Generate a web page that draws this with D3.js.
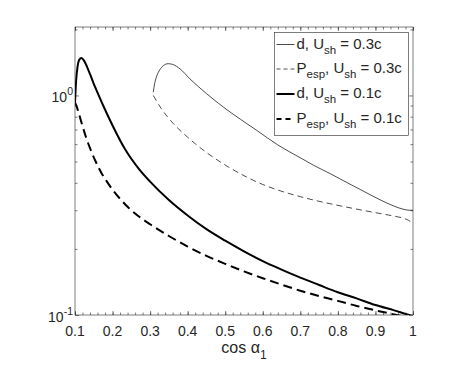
<!DOCTYPE html>
<html>
<head>
<meta charset="utf-8">
<script src="https://cdn.jsdelivr.net/npm/d3@7"></script>
<style>
  body { margin: 0; background: #fff; }
  text { font-family: "Liberation Sans", Arial, Helvetica, sans-serif; fill: #262626; }
</style>
</head>
<body>
<svg id="chart" width="474" height="366"></svg>
<script>
// cos alpha_1 values and curves
var xD01 = [0.100, 0.103, 0.107, 0.112, 0.117, 0.124, 0.132, 0.140, 0.150, 0.160, 0.175, 0.200, 0.233, 0.270, 0.300, 0.350, 0.400, 0.450, 0.500, 0.550, 0.600, 0.650, 0.700, 0.750, 0.800, 0.850, 0.900, 0.950, 0.990, 1.000];
var yD01 = [0.93, 1.17, 1.36, 1.46, 1.48, 1.44, 1.35, 1.25, 1.13, 1.03, 0.90, 0.73, 0.57, 0.463, 0.405, 0.334, 0.284, 0.246, 0.218, 0.195, 0.176, 0.161, 0.148, 0.137, 0.127, 0.119, 0.111, 0.105, 0.100, 0.099];

var xP01 = [0.100, 0.105, 0.110, 0.120, 0.130, 0.140, 0.155, 0.170, 0.185, 0.200, 0.220, 0.240, 0.260, 0.280, 0.300, 0.350, 0.400, 0.450, 0.500, 0.550, 0.600, 0.650, 0.700, 0.750, 0.800, 0.850, 0.900, 0.950, 0.980, 1.000];
var yP01 = [0.93, 0.885, 0.83, 0.725, 0.64, 0.575, 0.50, 0.445, 0.405, 0.372, 0.338, 0.311, 0.290, 0.273, 0.259, 0.229, 0.205, 0.186, 0.171, 0.158, 0.147, 0.1375, 0.129, 0.122, 0.116, 0.110, 0.105, 0.1006, 0.098, 0.096];

var xD03 = [0.3085, 0.312, 0.318, 0.326, 0.336, 0.348, 0.360, 0.380, 0.406, 0.450, 0.495, 0.540, 0.584, 0.640, 0.700, 0.735, 0.780, 0.823, 0.870, 0.912, 0.950, 0.975, 0.990, 1.000];
var yD03 = [1.035, 1.13, 1.23, 1.31, 1.37, 1.395, 1.385, 1.32, 1.19, 1.02, 0.885, 0.78, 0.693, 0.595, 0.52, 0.481, 0.44, 0.402, 0.365, 0.335, 0.313, 0.303, 0.300, 0.300];

var xP03 = [0.3085, 0.330, 0.362, 0.400, 0.450, 0.500, 0.557, 0.600, 0.646, 0.700, 0.735, 0.780, 0.823, 0.870, 0.912, 0.950, 0.974, 0.988, 1.000];
var yP03 = [1.0, 0.87, 0.744, 0.645, 0.55, 0.482, 0.425, 0.393, 0.368, 0.346, 0.334, 0.321, 0.310, 0.299, 0.290, 0.282, 0.276, 0.270, 0.261];

var xTicks = [0.1, 0.2, 0.3, 0.4, 0.5, 0.6, 0.7, 0.8, 0.9, 1];
var xTickLabels = ["0.1", "0.2", "0.3", "0.4", "0.5", "0.6", "0.7", "0.8", "0.9", "1"];
var yTicks = [0.1, 1];
var yTickExp = ["-1", "0"];
var legendNames = ["d", "P", "d", "P"];
var legendSubs = ["", "esp", "", "esp"];
var legendSpeeds = ["0.3c", "0.3c", "0.1c", "0.1c"];

var svg = d3.select("#chart"),
    marginLeft = 75, marginRight = 61, marginTop = 27, marginBottom = 51,
    width = +svg.attr("width"), height = +svg.attr("height");

var xScale = d3.scaleLinear().domain([0.1, 1]).range([marginLeft, width - marginRight]);
var yScale = d3.scaleLog().domain([0.1, 2.05]).range([height - marginBottom, marginTop]);

svg.append("defs").append("clipPath").attr("id", "clip")
  .append("rect")
  .attr("x", marginLeft).attr("y", marginTop)
  .attr("width", width - marginLeft - marginRight)
  .attr("height", height - marginTop - marginBottom);

// minor ticks
var xMinor = d3.range(0.1, 1.0001, 0.02);
var yMinor = [0.2, 0.3, 0.4, 0.5, 0.6, 0.7, 0.8, 0.9, 2];
var axisColor = "#262626";

function tickAxis(axis, vals, size) {
  var g = svg.append("g").call(axis.tickValues(vals).tickSize(size).tickFormat(""));
  g.select(".domain").remove();
  g.selectAll("line").attr("stroke", axisColor).attr("stroke-width", 0.6);
  return g;
}
var plotH = height - marginTop - marginBottom;
var plotW = width - marginLeft - marginRight;

tickAxis(d3.axisTop(xScale), xMinor, 2.5).attr("transform", "translate(0," + (height - marginBottom) + ")");
tickAxis(d3.axisBottom(xScale), xMinor, 2.5).attr("transform", "translate(0," + marginTop + ")");
tickAxis(d3.axisTop(xScale), xTicks, 4).attr("transform", "translate(0," + (height - marginBottom) + ")");
tickAxis(d3.axisBottom(xScale), xTicks, 4).attr("transform", "translate(0," + marginTop + ")");
tickAxis(d3.axisRight(yScale), yMinor, 2.5).attr("transform", "translate(" + marginLeft + ",0)");
tickAxis(d3.axisLeft(yScale), yMinor, 2.5).attr("transform", "translate(" + (width - marginRight) + ",0)");
tickAxis(d3.axisRight(yScale), yTicks, 4).attr("transform", "translate(" + marginLeft + ",0)");
tickAxis(d3.axisLeft(yScale), yTicks, 4).attr("transform", "translate(" + (width - marginRight) + ",0)");

// x tick labels
svg.append("g").selectAll("text")
  .data(xTicks)
  .enter().append("text")
  .attr("x", function(d) { return xScale(d); })
  .attr("y", height - marginBottom + 21)
  .attr("text-anchor", "middle")
  .style("font-size", "14px")
  .text(function(d, i) { return xTickLabels[i]; });

// y tick labels 10^n
var yl = svg.append("g").selectAll("text")
  .data(yTicks)
  .enter().append("text")
  .attr("x", marginLeft - 2)
  .attr("y", function(d) { return yScale(d) + 7; })
  .attr("text-anchor", "end")
  .style("font-size", "14px");
yl.append("tspan").text("10");
yl.append("tspan").attr("dy", -7).style("font-size", "10.5px").text(function(d, i) { return yTickExp[i]; });

// x label
var xl = svg.append("text")
  .attr("x", (marginLeft + width - marginRight) / 2)
  .attr("y", height - 13)
  .attr("text-anchor", "middle")
  .style("font-size", "16px");
xl.append("tspan").text("cos \u03b1");
xl.append("tspan").attr("dy", 6).style("font-size", "12px").text("1");

// curves
var series = [
  { x: xD03, y: yD03, w: 0.7, dash: null },
  { x: xP03, y: yP03, w: 0.7, dash: "6,4" },
  { x: xD01, y: yD01, w: 2, dash: null },
  { x: xP01, y: yP01, w: 2, dash: "9,5" }
];

var line = d3.line()
  .x(function(d) { return xScale(d[0]); })
  .y(function(d) { return yScale(d[1]); })
  .curve(d3.curveMonotoneX);

var plot = svg.append("g").attr("clip-path", "url(#clip)");
series.forEach(function(s) {
  plot.append("path")
    .datum(d3.zip(s.x, s.y))
    .attr("d", line)
    .style("fill", "none")
    .style("stroke", "#000")
    .style("stroke-width", s.w)
    .style("stroke-dasharray", s.dash);
});

// box
svg.append("rect")
  .attr("x", marginLeft).attr("y", marginTop)
  .attr("width", plotW).attr("height", plotH)
  .style("fill", "none").style("stroke", axisColor).style("stroke-width", 0.6);

// legend
var lx = 274.5, ly = 32.5, lw = 134, lh = 103;
svg.append("rect")
  .attr("x", lx).attr("y", ly).attr("width", lw).attr("height", lh)
  .style("fill", "#fff").style("stroke", axisColor).style("stroke-width", 0.6);

var rowY = [44.5, 69, 94, 119];
var leg = svg.append("g").selectAll("g")
  .data(series)
  .enter().append("g");

leg.append("line")
  .attr("x1", lx + 2).attr("x2", lx + 20)
  .attr("y1", function(d, i) { return rowY[i]; })
  .attr("y2", function(d, i) { return rowY[i]; })
  .style("stroke", "#000")
  .style("stroke-width", function(d) { return d.w; })
  .style("stroke-dasharray", function(d) { return d.dash ? (d.w > 1 ? "5,4" : "4,3") : null; });

var lt = leg.append("text")
  .attr("x", lx + 22)
  .attr("y", function(d, i) { return rowY[i] + 4; })
  .style("font-size", "15px");
lt.append("tspan").text(function(d, i) { return legendNames[i]; });
lt.filter(function(d, i) { return legendSubs[i]; })
  .append("tspan").attr("dy", 5).style("font-size", "11.5px").text(function(d, i) { return "esp"; });
lt.append("tspan")
  .attr("dy", function() { return this.parentNode.childNodes.length > 2 ? -5 : 0; })
  .text(", U");
lt.append("tspan").attr("dy", 5).style("font-size", "11.5px").text("sh");
lt.append("tspan").attr("dy", -5).text(function(d, i) { return " = " + legendSpeeds[i]; });
</script>
</body>
</html>
